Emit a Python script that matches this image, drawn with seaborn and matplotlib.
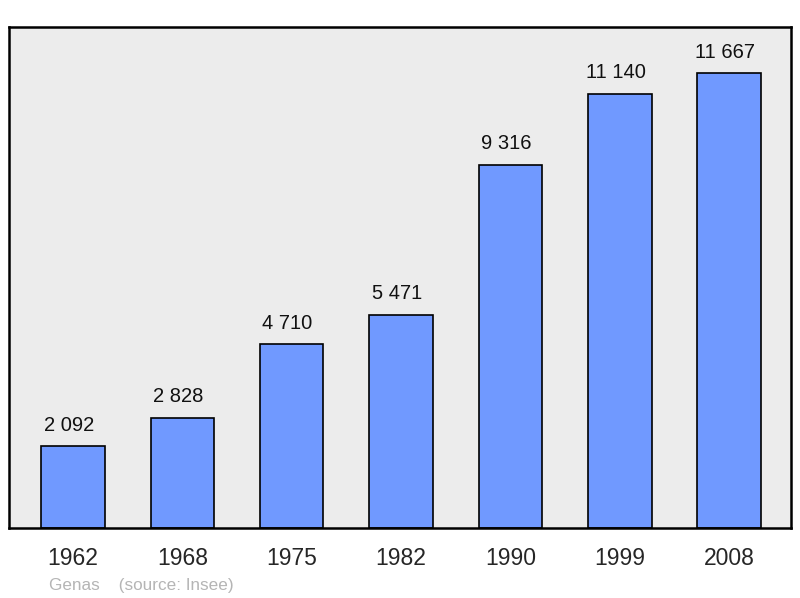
import seaborn as sns
import matplotlib.pyplot as plt
import pandas as pd

years = ["1962", "1968", "1975", "1982", "1990", "1999", "2008"]
population = [2092, 2828, 4710, 5471, 9316, 11140, 11667]
labels = ["2 092", "2 828", "4 710", "5 471", "9 316", "11 140", "11 667"]

df = pd.DataFrame({"year": years, "population": population})

sns.set_style("white")
plt.rcParams["font.family"] = ["Liberation Sans", "DejaVu Sans"]

fig = plt.figure(figsize=(8, 5.98), dpi=100)
ax = fig.add_axes([0.01125, 0.1171, 0.9775, 0.8378])
ax.set_facecolor("#ececec")

sns.barplot(data=df, x="year", y="population", color="#7099ff", saturation=1,
            width=0.58, edgecolor="black", linewidth=1.2, ax=ax)

for i, (v, lab) in enumerate(zip(population, labels)):
    ax.annotate(lab, (i, v), xytext=(-3, 11), textcoords="offset points",
                ha="center", va="baseline", fontsize=14.5, color="#111111")

ax.set_xlim(-0.585, 6.565)
ax.set_ylim(0, 12850)
ax.set_yticks([])
ax.set_xlabel("")
ax.set_ylabel("")
ax.tick_params(axis="x", length=0, pad=14, labelsize=16.5)

for s in ax.spines.values():
    s.set_visible(True)
    s.set_color("black")
    s.set_linewidth(1.8)

fig.text(49 / 800, 1 - 590 / 598, "Genas    (source: Insee)", fontsize=12.3,
         color="#b5b5b5", ha="left", va="baseline")

fig.savefig("out.png", dpi=100)
